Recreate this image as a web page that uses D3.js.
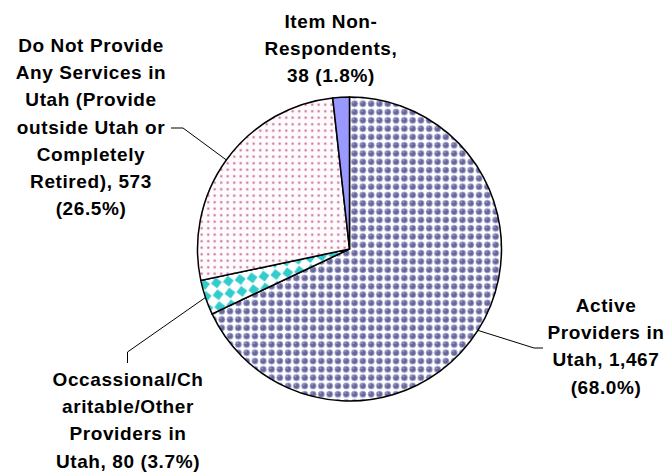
<!DOCTYPE html>
<html>
<head>
<meta charset="utf-8">
<script src="https://cdn.jsdelivr.net/npm/d3@7"></script>
<style>
  body { margin: 0; background: #fff; }
  svg { display: block; }
  .lbl { font-family: "Liberation Sans", Arial, sans-serif; font-weight: bold; font-size: 19px; letter-spacing: 0.6px; fill: #000; }
  .leader { stroke: #000; stroke-width: 1; fill: none; }
  .slice { stroke: #000; stroke-width: 1.5; }
</style>
</head>
<body>
<svg width="667" height="472"></svg>
<script>
// data
var categories = ["Active Providers in Utah", "Occassional/Charitable/Other Providers in Utah",
                  "Do Not Provide Any Services in Utah (Provide outside Utah or Completely Retired)",
                  "Item Non-Respondents"];
var counts = [1467, 80, 573, 38];
var percents = ["68.0%", "3.7%", "26.5%", "1.8%"];
// label text as wrapped in the original chart
var labelLines = [
    ["Active", "Providers in", "Utah, 1,467", "(68.0%)"],
    ["Occassional/Ch", "aritable/Other", "Providers in", "Utah, 80 (3.7%)"],
    ["Do Not Provide", "Any Services in", "Utah (Provide", "outside Utah or", "Completely", "Retired), 573", "(26.5%)"],
    ["Item Non-", "Respondents,", "38 (1.8%)"]
];

// layout
var cx = 349.5, cy = 249, radius = 152;
var lineH = 27.2;
// label block centre x, first-line y, leader elbow points (null = no leader)
var labelPos = [
    {x: 606, y: 312, elbow: [[534, 348], [543, 348]]},
    {x: 128, y: 386, elbow: [[127.5, 352], [127.5, 363]]},
    {x: 91, y: 52, elbow: [[183, 128], [171, 128]]},
    {x: 331, y: 28, elbow: null}
];
var fills = ["url(#p-active)", "url(#p-occ)", "url(#p-none)", "#9999ff"];

var svg = d3.select("svg");
var defs = svg.append("defs");

// active: purple balls
var pa = defs.append("pattern").attr("id", "p-active").attr("patternUnits", "userSpaceOnUse")
    .attr("width", 8.3).attr("height", 8.3).attr("x", cx).attr("y", cy);
pa.append("rect").attr("width", 8.3).attr("height", 8.3).attr("fill", "#ffffff");
pa.append("circle").attr("cx", 4.15).attr("cy", 4.15).attr("r", 3.1)
    .attr("fill", "#666699").attr("stroke", "#9f9fcc").attr("stroke-width", 0.9);
pa.append("circle").attr("cx", 3.2).attr("cy", 3).attr("r", 0.9)
    .attr("fill", "#a0a0d0");

// occasional: teal diamonds
var po = defs.append("pattern").attr("id", "p-occ").attr("patternUnits", "userSpaceOnUse")
    .attr("width", 12).attr("height", 12).attr("x", cx).attr("y", cy)
    .attr("patternTransform", "rotate(-8)");
po.append("rect").attr("width", 12).attr("height", 12).attr("fill", "#ffffff");
po.append("polygon").attr("points", "6,0.5 11.5,6 6,11.5 0.5,6").attr("fill", "#33cccc");

// do not provide: pink dots
var pn = defs.append("pattern").attr("id", "p-none").attr("patternUnits", "userSpaceOnUse")
    .attr("width", 6.5).attr("height", 6.5).attr("x", cx).attr("y", cy);
pn.append("rect").attr("width", 6.5).attr("height", 6.5).attr("fill", "#fffafc");
pn.append("rect").attr("x", 2.2).attr("y", 2.2).attr("width", 2).attr("height", 2).attr("fill", "#c06090");

var pie = d3.pie().sort(null).value(function(d) { return d; });
var arcs = pie(counts);
var arc = d3.arc().innerRadius(0).outerRadius(radius);

var g = svg.append("g").attr("transform", "translate(" + cx + "," + cy + ")");

g.selectAll(".slice")
    .data(arcs)
  .enter().append("path")
    .attr("class", "slice")
    .attr("d", arc)
    .attr("fill", function(d, i) { return fills[i]; });

// leaders from the slice middle on the rim
arcs.forEach(function(d, i) {
    var lp = labelPos[i];
    if (!lp.elbow) return;
    var a = (d.startAngle + d.endAngle) / 2;
    var p0 = [cx + radius * Math.sin(a), cy - radius * Math.cos(a)];
    svg.append("polyline")
        .attr("class", "leader")
        .attr("points", [p0].concat(lp.elbow).map(function(p) { return p.join(","); }).join(" "));
});

labelLines.forEach(function(lines, i) {
    var lp = labelPos[i];
    var t = svg.append("text").attr("class", "lbl").attr("text-anchor", "middle");
    lines.forEach(function(s, k) {
        t.append("tspan").attr("x", lp.x).attr("y", lp.y + k * lineH).text(s);
    });
});
</script>
</body>
</html>
